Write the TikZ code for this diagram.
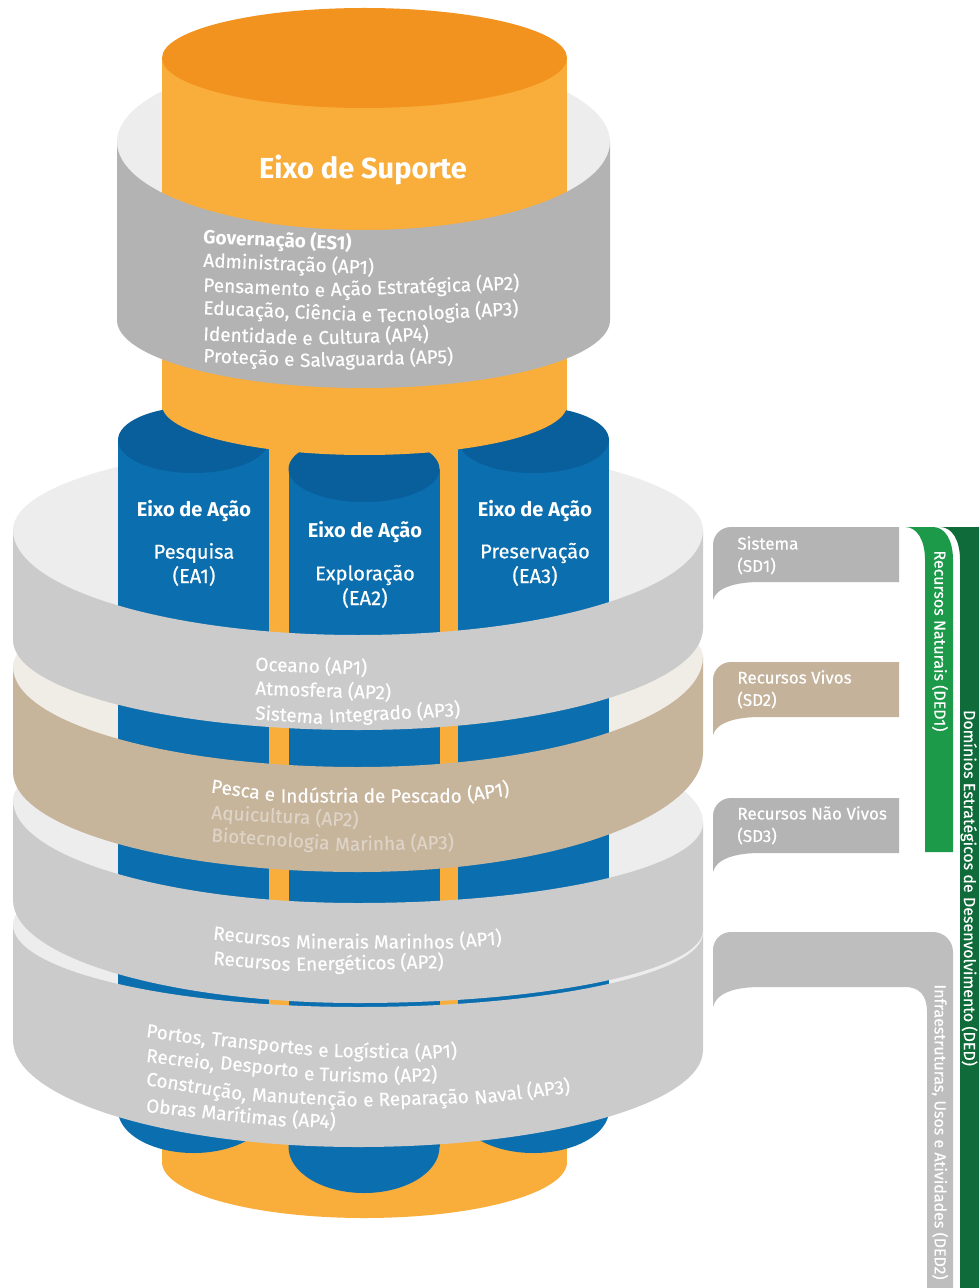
\documentclass[tikz,border=0pt]{standalone}
\usepackage{fontspec}
\setmainfont{Fira Sans}
\newfontfamily\bodyfont{Fira Sans}[FakeBold=0.5]
\definecolor{orL}{HTML}{F9AE3B}
\definecolor{orD}{HTML}{F3931F}
\definecolor{blS}{HTML}{0B6EAE}
\definecolor{blD}{HTML}{095E9C}
\definecolor{gES}{HTML}{B3B3B3}
\definecolor{gBand}{HTML}{CBCBCB}
\definecolor{gBack}{HTML}{EDEDED}
\definecolor{tanF}{HTML}{C6B49B}
\definecolor{tanBack}{HTML}{F0ECE6}
\definecolor{tabG}{HTML}{B4B4B4}
\definecolor{tabT}{HTML}{C5B29A}
\definecolor{grL}{HTML}{1C9A4A}
\definecolor{grD}{HTML}{0F6B39}
\definecolor{barG}{HTML}{BEBEBE}
\definecolor{faintT}{HTML}{DDD3C6}
% front face of a band: style, xL, xR, yLtop, yRtop, yMtop, yLbot, yRbot, yMbot
\newcommand\bandfront[9]{%
  \pgfmathsetmacro\xm{(#2+#3)/2}%
  \pgfmathsetmacro\hl{0.5523*(\xm-#2)}%
  \pgfmathsetmacro\hr{0.5523*(#3-\xm)}%
  \fill[#1] (#2,#4) .. controls +(0,{0.5523*(#6-#4)}) and +(-\hl,0) .. (\xm,#6)
     .. controls +(\hr,0) and +(0,{0.5523*(#6-#5)}) .. (#3,#5)
     -- (#3,#8) .. controls +(0,{0.5523*(#9-#8)}) and +(\hr,0) .. (\xm,#9)
     .. controls +(-\hl,0) and +(0,{0.5523*(#9-#7)}) .. (#2,#7) -- cycle;}
% inner back of a band: style, xL, xR, yLtop, yRtop, yBackTop, yMtop
\newcommand\bandback[7]{%
  \pgfmathsetmacro\xm{(#2+#3)/2}%
  \pgfmathsetmacro\hl{0.5523*(\xm-#2)}%
  \pgfmathsetmacro\hr{0.5523*(#3-\xm)}%
  \fill[#1] (#2,#4) .. controls +(0,{-0.5523*(#4-#6)}) and +(-\hl,0) .. (\xm,#6)
     .. controls +(\hr,0) and +(0,{-0.5523*(#5-#6)}) .. (#3,#5)
     .. controls +(0,{0.5523*(#7-#5)}) and +(\hr,0) .. (\xm,#7)
     .. controls +(-\hl,0) and +(0,{0.5523*(#7-#4)}) .. (#2,#4) -- cycle;}
% blue column: cx, y top centre, y bottom centre, bottom radius
\newcommand\bluecol[4]{%
  \fill[blS] (#1-75.5,#2) rectangle (#1+75.5,#3);
  \fill[blS] (#1,#3) ellipse [x radius=75.5, y radius=#4];
  \fill[blD] (#1,#2) ellipse [x radius=75.5, y radius=33];}
% callout tab: colour, top, bottom, tip
\newcommand\tabshape[4]{%
  \fill[#1] (713,#4) -- (713,{#2+18}) arc[start angle=180, end angle=270, radius=18]
    -- (899,#2) -- (899,#3) -- (760,#3) .. controls (735,#3) and (716,{#3+6}) .. (713,#4) -- cycle;}
\tikzset{
  wt/.style={text=white, anchor=west, inner sep=0pt, font=\bodyfont\fontsize{9.5}{11}\selectfont},
  wtb/.style={wt, font=\bfseries\fontsize{9.5}{11}\selectfont},
  coltitle/.style={text=white, inner sep=0pt, font=\bfseries\fontsize{10}{12}\selectfont},
  colsub/.style={text=white, inner sep=0pt, font=\bodyfont\fontsize{10}{12}\selectfont},
  tabtext/.style={text=white, anchor=west, inner sep=0pt, font=\bodyfont\fontsize{8.5}{10}\selectfont},
  vtext/.style={text=white, inner sep=0pt, rotate=-90, font=\bodyfont\fontsize{8}{10}\selectfont},
  nxt/.style={xshift=2.4pt}
}
\begin{document}
\begin{tikzpicture}[x=0.5pt,y=-0.5pt]
\useasboundingbox (0,0) rectangle (979,1288);
\fill[white] (0,0) rectangle (979,1288);

% ---- inner backs of the bands (bottom first)
\bandback{gBack}{13}{703}{925}{933}{845}{1007}
\bandback{gBack}{13}{703}{800}{823}{725}{903}
\bandback{tanBack}{13}{703}{667}{657}{585}{767}
\bandback{gBack}{13}{703}{530}{530}{442}{635}
\bandback{gBack}{117}{610}{142}{142}{54}{230}

% ---- orange support cylinder, back part
\fill[orL] (162,58) rectangle (567,1162);
\fill[orL] (364.5,1162) ellipse [x radius=202.5, y radius=56];

% ---- blue action columns
\bluecol{193.5}{440}{1110}{43}
\bluecol{533.5}{440}{1110}{43}
\bluecol{364}{469}{1147}{46}

% ---- orange support cylinder, front part
\fill[orL] (162,58) rectangle (567,405);
\fill[orL] (364.5,405) ellipse [x radius=202.5, y radius=50];
\fill[orD] (364.5,58) ellipse [x radius=202.5, y radius=50];

% ---- band fronts
\bandfront{gES}{117}{610}{142}{142}{230}{320}{320}{388}
\bandfront{gBand}{13}{703}{530}{530}{635}{640}{628}{730}
\bandfront{tanF}{13}{703}{667}{657}{767}{772}{752}{872}
\bandfront{gBand}{13}{703}{800}{823}{903}{900}{930}{1003}
\bandfront{gBand}{13}{703}{925}{933}{1007}{1040}{1050}{1147}

% ---- texts on the cylinder
\node[text=white, inner sep=0pt, font=\bfseries\fontsize{14.5}{17}\selectfont] (es) at (363,170) {Eixo de Suporte};
\node[wtb, rotate=-2.5] (es1) at (203,238) {Governação (ES1)};
\node[wt, rotate=-2.5] (es2) at (203,261) {Administração (AP1)};
\node[wt, rotate=-2.5] (es3a) at (203,285) {Pensamento e};
\node[wt, rotate=2] (es3b) at ([nxt]es3a.east) {Ação Estratégica (AP2)};
\node[wt, rotate=-2.5] (es4a) at (203,309) {Educação, Ciência e};
\node[wt, rotate=3] (es4b) at ([nxt]es4a.east) {Tecnologia (AP3)};
\node[wt, rotate=-2.5] (es5a) at (203,333) {Identidade e};
\node[wt, rotate=2] (es5b) at ([nxt]es5a.east) {Cultura (AP4)};
\node[wt, rotate=-2.5] (es6a) at (203,357) {Proteção e};
\node[wt, rotate=1.5] (es6b) at ([nxt]es6a.east) {Salvaguarda (AP5)};

\node[coltitle] (ea1t) at (194,511) {Eixo de Ação};
\node[colsub] (ea1a) at (194,553) {Pesquisa};
\node[colsub] (ea1b) at (194,576) {(EA1)};
\node[coltitle] (ea2t) at (365,532) {Eixo de Ação};
\node[colsub] (ea2a) at (365,575) {Exploração};
\node[colsub] (ea2b) at (365,598) {(EA2)};
\node[coltitle] (ea3t) at (535,511) {Eixo de Ação};
\node[colsub] (ea3a) at (535,553) {Preservação};
\node[colsub] (ea3b) at (535,576) {(EA3)};

\node[wt, rotate=-2] (s1a) at (255,664) {Oceano (AP1)};
\node[wt, rotate=-2] (s1b) at (255,688) {Atmosfera (AP2)};
\node[wt, rotate=-4] (s1c) at (255,712) {Sistema};
\node[wt, rotate=3] (s1d) at ([nxt]s1c.east) {Integrado (AP3)};

\node[wt, rotate=-8] (s2a) at (211,786) {Pesca e};
\node[wt] (s2b) at ([nxt]s2a.east) {Indústria de Pescado};
\node[wt, rotate=9] (s2c) at ([nxt]s2b.east) {(AP1)};
\node[wt, text=faintT, rotate=-3] (s2d) at (211,813) {Aquicultura (AP2)};
\node[wt, text=faintT, rotate=-4] (s2e) at (211,836) {Biotecnologia};
\node[wt, text=faintT, rotate=1] (s2f) at ([nxt]s2e.east) {Marinha (AP3)};

\node[wt, rotate=-6] (s3a) at (213,933) {Recursos};
\node[wt] (s3b) at ([nxt]s3a.east) {Minerais Marinhos};
\node[wt, rotate=5] (s3c) at ([nxt]s3b.east) {(AP1)};
\node[wt, rotate=-5] (s3d) at (213,958) {Recursos};
\node[wt, rotate=1] (s3e) at ([nxt]s3d.east) {Energéticos (AP2)};

\node[wt, rotate=-8] (s4a) at (146,1032) {Portos,};
\node[wt, rotate=-6] (s4b) at ([nxt]s4a.east) {Transportes};
\node[wt, rotate=-1] (s4c) at ([nxt]s4b.east) {e Logística};
\node[wt, rotate=3] (s4d) at ([nxt]s4c.east) {(AP1)};
\node[wt, rotate=-7] (s4e) at (146,1056) {Recreio,};
\node[wt, rotate=-6] (s4f) at ([nxt]s4e.east) {Desporto};
\node[wt, rotate=-2] (s4g) at ([nxt]s4f.east) {e Turismo};
\node[wt, rotate=2] (s4h) at ([nxt]s4g.east) {(AP2)};
\node[wt, rotate=-9] (s4i) at (146,1080) {Construção,};
\node[wt, rotate=-3] (s4j) at ([nxt]s4i.east) {Manutenção};
\node[wt, rotate=2] (s4k) at ([nxt]s4j.east) {e Reparação};
\node[wt, rotate=7] (s4l) at ([nxt]s4k.east) {Naval (AP3)};
\node[wt, rotate=-6] (s4m) at (146,1105) {Obras};
\node[wt, rotate=-6] (s4n) at ([nxt]s4m.east) {Marítimas};
\node[wt, rotate=-3] (s4o) at ([nxt]s4n.east) {(AP4)};

% ---- right-hand domain labels
\tabshape{tabG}{527}{582}{600}
\tabshape{tabT}{662}{717}{735}
\tabshape{tabG}{798}{853}{872}
\fill[barG] (713,1007) -- (713,950) arc[start angle=180, end angle=270, radius=18]
  -- (933,932) arc[start angle=270, end angle=360, radius=20] -- (953,1288) -- (927,1288)
  -- (927,1012) .. controls (927,996) and (920,987) .. (905,987) -- (760,987)
  .. controls (735,987) and (716,993) .. (713,1007) -- cycle;
\fill[grL] (905,527) -- (933,527) .. controls (945,527) and (953,540) .. (953,560) -- (953,852)
  -- (925,852) -- (925,560) .. controls (925,540) and (917,527) .. (905,527) -- cycle;
\fill[grD] (940,527) -- (979,527) -- (979,1288) -- (960,1288) -- (960,560)
  .. controls (960,540) and (952,527) .. (940,527) -- cycle;

\node[tabtext] (sd1a) at (737,543) {Sistema};
\node[tabtext] (sd1b) at (737,566) {(SD1)};
\node[tabtext] (sd2a) at (737,677) {Recursos Vivos};
\node[tabtext] (sd2b) at (737,700) {(SD2)};
\node[tabtext] (sd3a) at (737,813) {Recursos Não Vivos};
\node[tabtext] (sd3b) at (737,836) {(SD3)};

\node[vtext] (ded1) at (940,641) {Recursos Naturais (DED1)};
\node[vtext] (ded) at (969,888) {Domínios Estratégicos de Desenvolvimento (DED)};
\node[vtext] (ded2) at (940,1132) {Infraestruturas, Usos e Atividades (DED2)};
\end{tikzpicture}
\end{document}
